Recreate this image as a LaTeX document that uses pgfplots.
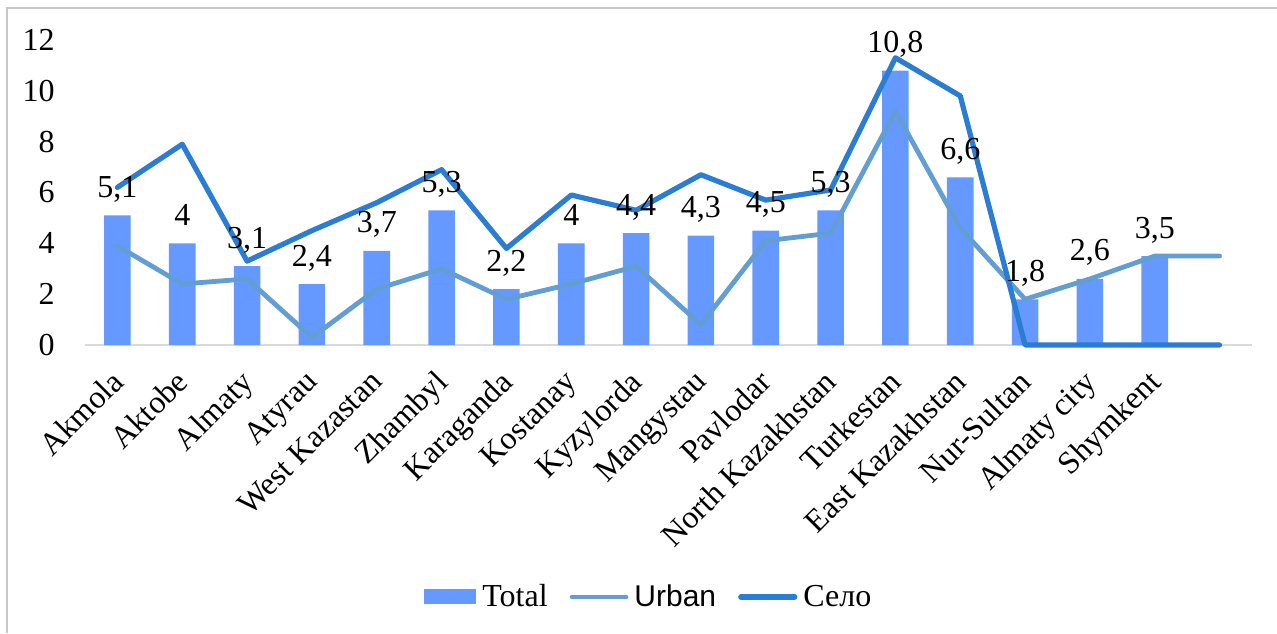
\documentclass[border=0pt]{standalone}
\usepackage{pgfplots}
\pgfplotsset{compat=1.18}
\usepackage{fontspec}
\setmainfont{Liberation Serif}
\newfontfamily\arial{Liberation Sans}
\definecolor{barc}{RGB}{102,153,255}
\definecolor{urbc}{RGB}{98,158,210}
\definecolor{selc}{RGB}{43,125,212}
\definecolor{axc}{RGB}{217,217,217}
\definecolor{brd}{RGB}{200,200,200}
\begin{document}
\begin{tikzpicture}
\useasboundingbox (0,0) rectangle (638.5pt,316.5pt);
\draw[brd, line width=1pt] (3.5pt,0) -- (3.5pt,312.5pt) -- (640pt,312.5pt);
\begin{axis}[
  at={(42.5pt,144pt)}, anchor=south west,
  scale only axis, width=583.5pt, height=152.5pt,
  xmin=-0.5, xmax=17.5, ymin=0, ymax=12,
  clip=false,
  font=\fontsize{16}{19}\selectfont,
  /pgf/number format/assume math mode=true,
  /pgf/number format/use comma,
  axis x line*=bottom, axis y line*=left,
  x axis line style={draw=axc, line width=1pt, -},
  y axis line style={draw=none},
  xtick={0,...,16},
  xticklabels={Akmola,Aktobe,Almaty,Atyrau,West Kazastan,Zhambyl,Karaganda,Kostanay,Kyzylorda,Mangystau,Pavlodar,North Kazakhstan,Turkestan,East Kazakhstan,Nur-Sultan,Almaty city,Shymkent},
  xtick style={draw=none},
  xticklabel style={xshift=-4pt, yshift=-11.5pt, rotate=45, anchor=north east, inner sep=0pt},
  ytick={0,2,...,12},
  ytick style={draw=none},
  yticklabel style={anchor=east, inner sep=0pt, xshift=-15pt},
  legend columns=3,
  legend style={at={(0.484,-0.826)}, anchor=center, draw=none, fill=none,
    font=\fontsize{16}{19}\selectfont,
    /tikz/every even column/.append style={column sep=9pt},
    /tikz/every odd column/.append style={column sep=1pt}},
]
\addplot[ybar, bar width=13.3pt, fill=barc, draw=none,
  nodes near coords={\pgfmathprintnumber[use comma]{\pgfplotspointmeta}},
  nodes near coords style={anchor=base, yshift=9pt, inner sep=0pt, text=black, font=\fontsize{16}{19}\selectfont},
  legend image code/.code={\fill[barc] (0pt,-3.75pt) rectangle (26pt,3.75pt);}]
coordinates {(0,5.1) (1,4) (2,3.1) (3,2.4) (4,3.7) (5,5.3) (6,2.2) (7,4) (8,4.4) (9,4.3) (10,4.5) (11,5.3) (12,10.8) (13,6.6) (14,1.8) (15,2.6) (16,3.5)};
\addlegendentry{Total}
\addplot[sharp plot, no marks, color=urbc, line width=2.4pt, line join=round, line cap=round,
  legend image code/.code={\draw[urbc, line width=2.4pt, line cap=round] (0pt,0pt) -- (27pt,0pt);}]
coordinates {(0,3.9) (1,2.4) (2,2.6) (3,0.3) (4,2.2) (5,3.0) (6,1.8) (7,2.4) (8,3.1) (9,0.8) (10,4.1) (11,4.4) (12,9.2) (13,4.6) (14,1.8) (15,2.6) (16,3.5) (17,3.5)};
\addlegendentry{\fontsize{15}{18}\selectfont\arial Urban}
\addplot[sharp plot, no marks, color=selc, line width=2.6pt, line join=round, line cap=round,
  legend image code/.code={\draw[selc, line width=2.6pt, line cap=round] (0pt,0pt) -- (27pt,0pt);}]
coordinates {(0,6.2) (1,7.9) (2,3.3) (3,4.5) (4,5.6) (5,6.9) (6,3.8) (7,5.9) (8,5.3) (9,6.7) (10,5.7) (11,6.1) (12,11.3) (13,9.8) (14,0) (15,0) (16,0) (17,0)};
\addlegendentry{Село}
\end{axis}
\end{tikzpicture}
\end{document}
